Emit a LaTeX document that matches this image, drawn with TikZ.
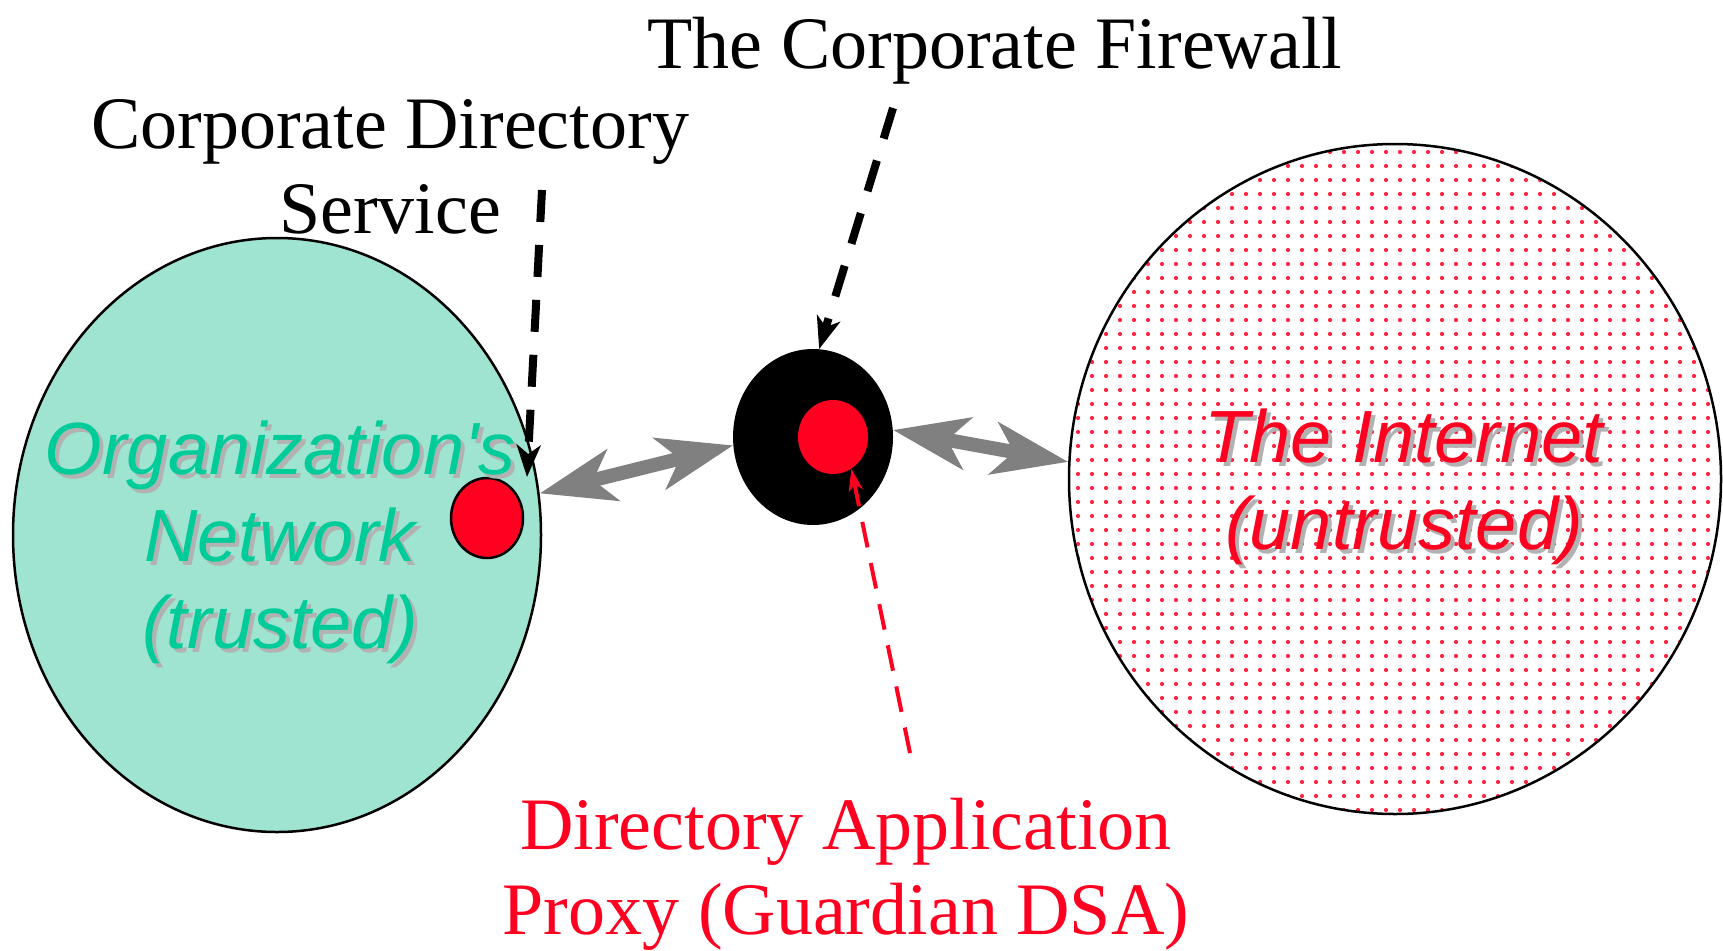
\documentclass[tikz,border=0pt]{standalone}
\usepackage{fontspec}
\setmainfont{Liberation Serif}
\newfontfamily\zonefont{Liberation Sans}
\usetikzlibrary{shapes.geometric,arrows.meta,patterns.meta}
\definecolor{trustgreen}{RGB}{0,204,153}
\definecolor{trustfill}{RGB}{158,228,208}
\definecolor{netred}{RGB}{255,0,33}
\definecolor{linkgray}{RGB}{128,128,128}
\definecolor{shadowgray}{RGB}{178,178,178}
\tikzdeclarepattern{
  name=netdots, type=uncolored,
  bounding box={(-7pt,-7pt) and (7pt,7pt)},
  tile size={(14pt,14pt)},
  code={\pgfpathcircle{\pgfpointorigin}{2.1pt}\pgfusepath{fill}}
}
\tikzset{
  bigtext/.style={font=\fontsize{74}{85}\selectfont, align=center, anchor=base, inner sep=0pt},
  zonetext/.style={font=\zonefont\itshape\fontsize{74}{87}\selectfont, align=center, anchor=base, inner sep=0pt},
  zone/.style={ellipse, draw, line width=2.5pt, inner sep=0pt},
  hole/.style={ellipse, fill=netred, inner sep=0pt},
  link/.style={line width=14pt, linkgray, {Stealth[length=75pt,width=52pt,inset=20pt]}-{Stealth[length=75pt,width=52pt,inset=20pt]}},
  pointer/.style={line width=8pt, dash pattern=on 32pt off 23pt, -{Stealth[length=32pt,width=24pt,inset=9pt]}},
  redpointer/.style={line width=4pt, netred, dash pattern=on 26pt off 16pt, -{Stealth[length=22pt,width=14pt,inset=6pt]}}
}
\begin{document}
\begin{tikzpicture}[x=1pt,y=-1pt]
  \useasboundingbox (0,0) rectangle (1723,950);
  \node[zone, fill=trustfill, minimum width=528pt, minimum height=594pt] (net) at (277,535) {};
  \node[zone, fill=white, pattern=netdots, pattern color=netred!85, minimum width=652pt, minimum height=670pt] (inet) at (1395,479) {};
  \node[ellipse, fill=black, inner sep=0pt, minimum width=160pt, minimum height=176pt] (wall) at (813,437) {};
  \node[hole, minimum width=70pt, minimum height=74pt] (proxy) at (833,437) {};
  \node[hole, draw, line width=2.5pt, minimum width=72pt, minimum height=80pt] (dsa) at (487,518) {};
  \node[zonetext, shadowgray] (netshadow) at (284,652) {Organization's\\Network\\(trusted)};
  \node[zonetext, trustgreen] (netlabel) at (280,648) {Organization's\\Network\\(trusted)};
  \node[zonetext, shadowgray] (inetshadow) at (1408,553) {The Internet\\(untrusted)};
  \node[zonetext, netred] (inetlabel) at (1404,549) {The Internet\\(untrusted)};
  \node[bigtext] (walllabel) at (995,68) {The Corporate Firewall};
  \node[bigtext] (dsalabel) at (390,233) {Corporate Directory\\Service};
  \node[bigtext, netred] (proxylabel) at (846,934) {Directory Application\\Proxy (Guardian DSA)};
  \coordinate (dsafoot) at (542,190);
  \coordinate (dsatip) at (527,477);
  \coordinate (wallfoot) at (893,108);
  \coordinate (proxyfoot) at (910,753);
  \draw[link] (net.9) -- (wall.186);
  \draw[link] (wall.5) -- (inet.177);
  \draw[pointer] (dsafoot) -- (dsatip);
  \draw[pointer] (wallfoot) -- (wall.86);
  \draw[redpointer] (proxyfoot) -- (proxy.-60);
\end{tikzpicture}
\end{document}
